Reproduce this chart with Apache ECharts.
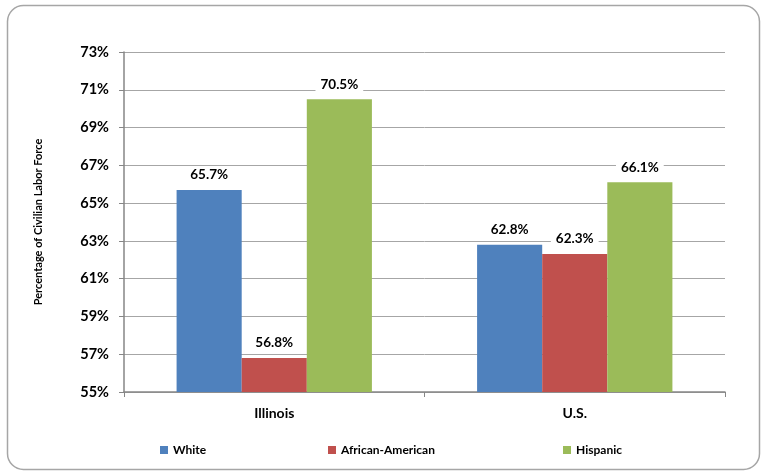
<!DOCTYPE html>
<html><head><meta charset="utf-8">
<script src="https://cdn.jsdelivr.net/npm/echarts@6/dist/echarts.min.js"></script>
<style>html,body{margin:0;padding:0;background:#fff}#c{width:765px;height:476px}</style>
</head><body><div id="c"></div>
<script>
const categories = ['Illinois', 'U.S.'];
const white = [65.7, 62.8];
const africanAmerican = [56.8, 62.3];
const hispanic = [70.5, 66.1];
const seriesNames = ['White', 'African-American', 'Hispanic'];
const colors = ['#4f81bd', '#c0504d', '#9bbb59'];

const font = 'Lato, "Open Sans", sans-serif';
const chart = echarts.init(document.getElementById('c'));
const label = {
  show: true, position: 'top', distance: 6,
  formatter: p => p.value.toFixed(1) + '%',
  color: '#000', fontWeight: 'bold', fontSize: 13.5, fontFamily: font,
  backgroundColor: '#fff', padding: [2, 5]
};
const data = [white, africanAmerican, hispanic];
chart.setOption({
  animation: false,
  graphic: [{
    type: 'rect', shape: { x: 7.5, y: 5.5, width: 752, height: 464, r: 16 },
    style: { fill: 'none', stroke: '#a6a6a6', lineWidth: 1.5 }, z: -1
  }],
  grid: { left: 124, right: 40, top: 52, bottom: 84 },
  legend: [0, 1, 2].map(i => ({
    data: [seriesNames[i]], left: [155, 323, 558][i], top: 439,
    itemWidth: 8, itemHeight: 8, icon: 'rect', itemGap: 4,
    textStyle: { color: '#000', fontWeight: 'bold', fontSize: 12, fontFamily: font }
  })),
  xAxis: {
    type: 'category', data: categories,
    axisLine: { lineStyle: { color: '#868686', width: 1.5 } },
    axisTick: { show: true, length: 5, lineStyle: { color: '#868686' } },
    axisLabel: { color: '#000', fontWeight: 'bold', fontSize: 14, fontFamily: font, margin: 14 }
  },
  yAxis: {
    type: 'value', min: 55, max: 73, interval: 2,
    name: 'Percentage of Civilian Labor Force', nameLocation: 'middle', nameGap: 80,
    nameTextStyle: { color: '#000', fontWeight: 'bold', fontSize: 11, fontFamily: font },
    axisLine: { show: true, lineStyle: { color: '#868686', width: 1.5 } },
    axisTick: { show: true, length: 5, lineStyle: { color: '#868686' } },
    axisLabel: { formatter: '{value}%', color: '#000', fontWeight: 'bold', fontSize: 14.5, fontFamily: font, margin: 15 },
    splitLine: { lineStyle: { color: '#a6a6a6' } }
  },
  series: [0, 1, 2].map(i => ({
    name: seriesNames[i], type: 'bar', data: data[i],
    itemStyle: { color: colors[i] },
    barGap: '0%', barCategoryGap: '35%',
    label: label
  }))
});
</script></body></html>
